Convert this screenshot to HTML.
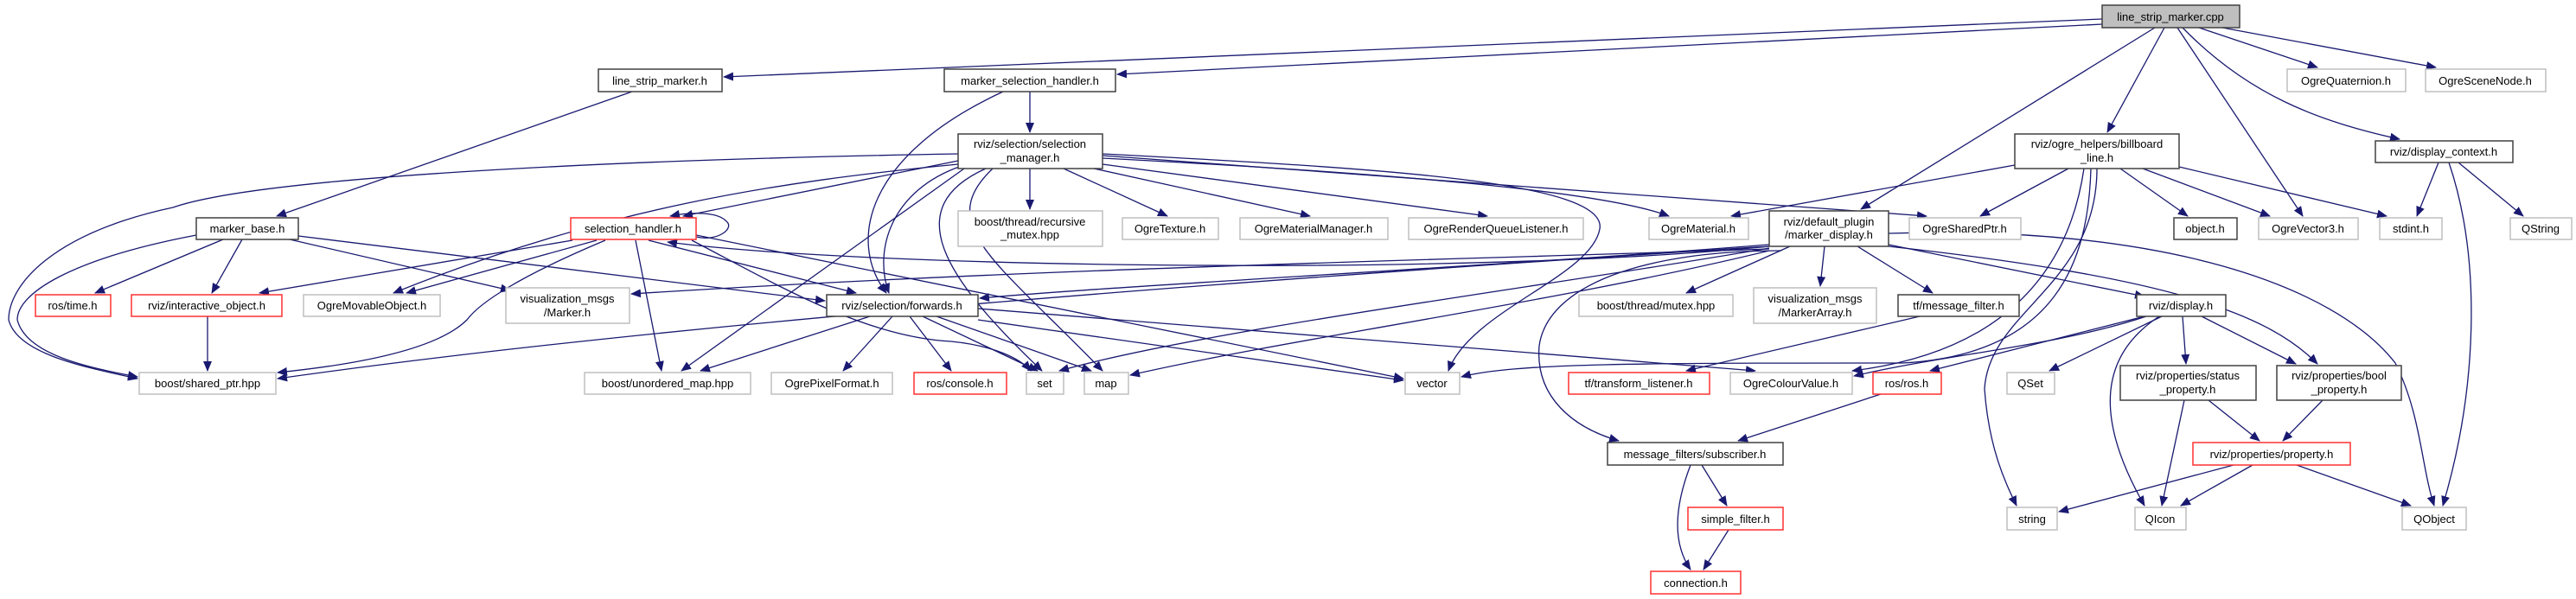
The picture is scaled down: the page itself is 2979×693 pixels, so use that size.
<!DOCTYPE html>
<html><head><meta charset="utf-8"><style>
html,body{margin:0;padding:0;background:#fff;}
svg{display:block;}
text{font-family:"Liberation Sans",sans-serif;font-size:13px;fill:#000;text-anchor:middle;}
.e{fill:none;stroke:#191970;stroke-width:1.3;marker-end:url(#a);}
.k{fill:#fff;stroke:#404040;stroke-width:1.5;}
.g{fill:#fff;stroke:#bfbfbf;stroke-width:1.5;}
.r{fill:#fff;stroke:#ff3030;stroke-width:1.5;}
</style></head><body>
<svg width="2979" height="693" viewBox="0 0 2979 693" xmlns="http://www.w3.org/2000/svg">
<defs><marker id="a" markerWidth="12" markerHeight="10" refX="11" refY="5" orient="auto" markerUnits="userSpaceOnUse"><path d="M0,0 L12,5 L0,10 z" fill="#191970"/></marker></defs>
<g>
<path class="e" d="M2431,22 L837,89"/>
<path class="e" d="M2431,28 L1292,86"/>
<path class="e" d="M2492,32 L2152,242"/>
<path class="e" d="M2503,32 L2437,153"/>
<path class="e" d="M2518,32 L2663,250"/>
<path class="e" d="M2524,32 C2600,110 2680,140 2775,161"/>
<path class="e" d="M2543,32 L2680,78"/>
<path class="e" d="M2570,32 L2817,78"/>
<path class="e" d="M731,106 L320,250"/>
<path class="e" d="M1191,106 L1191,153"/>
<path class="e" d="M1160,106 C1000,180 980,280 1025,339"/>
<path class="e" d="M1108,186 L790,250"/>
<path class="e" d="M1108,178 C700,185 300,205 200,240 C60,270 10,330 10,370 C20,410 100,425 159,438"/>
<path class="e" d="M227,272 C80,300 20,340 20,370 C30,410 100,425 159,436"/>
<path class="e" d="M1108,190 C900,210 700,240 455,339"/>
<path class="e" d="M1112,192 C1030,220 1010,290 1028,339"/>
<path class="e" d="M1115,195 L788,429"/>
<path class="e" d="M1140,195 C1040,240 1090,320 1205,429"/>
<path class="e" d="M1148,195 C1080,260 1150,300 1275,429"/>
<path class="e" d="M1275,178 C1600,195 1860,210 1850,265 C1840,320 1700,360 1675,429"/>
<path class="e" d="M1191,195 L1191,242"/>
<path class="e" d="M1230,195 L1350,250"/>
<path class="e" d="M1265,195 L1515,250"/>
<path class="e" d="M1275,190 L1720,250"/>
<path class="e" d="M1275,183 C1600,200 1850,220 1930,250"/>
<path class="e" d="M1275,180 L2228,250"/>
<path class="e" d="M258,277 L110,339"/>
<path class="e" d="M280,277 L245,339"/>
<path class="e" d="M335,277 L590,336"/>
<path class="e" d="M345,273 L954,348"/>
<path class="e" d="M805,274 C830,280 850,264 840,256 C830,245 800,245 775,250"/>
<path class="e" d="M662,278 L300,339"/>
<path class="e" d="M690,278 L470,339"/>
<path class="e" d="M700,278 C600,320 555,350 540,370 C500,410 380,425 321,431"/>
<path class="e" d="M750,278 L990,339"/>
<path class="e" d="M735,278 L765,429"/>
<path class="e" d="M800,278 C900,330 1000,390 1100,395 C1150,400 1180,415 1192,429"/>
<path class="e" d="M805,272 L1623,438"/>
<path class="e" d="M2046,285 C1700,320 1000,310 772,280"/>
<path class="e" d="M2046,283 C1700,310 1300,330 1133,345"/>
<path class="e" d="M2046,285 C1500,320 800,370 321,438"/>
<path class="e" d="M2046,287 C1800,330 1400,380 1225,429"/>
<path class="e" d="M2046,290 C1800,350 1500,390 1307,434"/>
<path class="e" d="M2046,288 C1700,300 1200,310 730,340"/>
<path class="e" d="M2070,285 L1950,339"/>
<path class="e" d="M2110,285 L2105,331"/>
<path class="e" d="M2148,285 L2235,339"/>
<path class="e" d="M2184,283 L2480,343"/>
<path class="e" d="M2060,290 C1900,290 1790,330 1780,400 C1775,460 1820,495 1872,510"/>
<path class="e" d="M2184,285 C2500,320 2620,360 2680,421"/>
<path class="e" d="M2184,270 C2500,260 2700,330 2770,420 C2800,480 2800,540 2815,585"/>
<path class="e" d="M2330,191 L2002,250"/>
<path class="e" d="M2392,195 L2290,250"/>
<path class="e" d="M2452,195 L2530,250"/>
<path class="e" d="M2478,195 L2625,250"/>
<path class="e" d="M2520,193 L2760,250"/>
<path class="e" d="M2418,195 C2415,300 2380,410 2200,420 C1900,420 1750,420 1690,436"/>
<path class="e" d="M2425,195 C2425,330 2300,360 2295,450 C2300,520 2320,560 2332,585"/>
<path class="e" d="M2410,195 C2390,330 2300,410 2142,429"/>
<path class="e" d="M2832,188 C2870,300 2865,450 2825,585"/>
<path class="e" d="M2820,188 L2795,250"/>
<path class="e" d="M2843,188 L2918,250"/>
<path class="e" d="M2480,366 L2232,429"/>
<path class="e" d="M2482,366 C2380,400 2250,410 2144,435"/>
<path class="e" d="M2500,366 L2370,429"/>
<path class="e" d="M2497,366 C2430,410 2420,480 2480,585"/>
<path class="e" d="M2524,366 L2528,421"/>
<path class="e" d="M2546,366 L2655,421"/>
<path class="e" d="M2220,366 L1950,429"/>
<path class="e" d="M2175,456 L2010,510"/>
<path class="e" d="M1968,538 L1997,585"/>
<path class="e" d="M1955,538 C1935,590 1935,630 1955,659"/>
<path class="e" d="M1999,613 L1970,659"/>
<path class="e" d="M2554,463 L2613,510"/>
<path class="e" d="M2526,463 L2500,585"/>
<path class="e" d="M2686,463 L2640,510"/>
<path class="e" d="M2583,538 L2381,592"/>
<path class="e" d="M2605,538 L2522,585"/>
<path class="e" d="M2656,538 L2788,585"/>
<path class="e" d="M240,366 L240,429"/>
<path class="e" d="M1006,366 L810,429"/>
<path class="e" d="M1032,366 L975,429"/>
<path class="e" d="M1052,366 L1100,429"/>
<path class="e" d="M1067,366 L1200,429"/>
<path class="e" d="M1083,366 L1262,429"/>
<path class="e" d="M1131,370 L1623,440"/>
<path class="e" d="M1131,357 L2030,429"/>
</g>
<g>
<rect x="2431" y="6" width="159" height="26" fill="#bfbfbf" stroke="#404040" stroke-width="1.5"/><text x="2510" y="24">line_strip_marker.cpp</text>
<rect class="k" x="692" y="80" width="143" height="26"/><text x="763" y="98">line_strip_marker.h</text>
<rect class="k" x="1092" y="80" width="198" height="26"/><text x="1191" y="98">marker_selection_handler.h</text>
<rect class="g" x="2645" y="80" width="137" height="26"/><text x="2713" y="98">OgreQuaternion.h</text>
<rect class="g" x="2805" y="80" width="139" height="26"/><text x="2874" y="98">OgreSceneNode.h</text>
<rect class="k" x="1108" y="155" width="167" height="40"/><text x="1191" y="171">rviz/selection/selection</text><text x="1191" y="187">_manager.h</text>
<rect class="k" x="2330" y="155" width="190" height="40"/><text x="2425" y="171">rviz/ogre_helpers/billboard</text><text x="2425" y="187">_line.h</text>
<rect class="k" x="2747" y="163" width="159" height="25"/><text x="2826" y="180">rviz/display_context.h</text>
<rect class="k" x="227" y="252" width="118" height="25"/><text x="286" y="269">marker_base.h</text>
<rect class="r" x="660" y="252" width="145" height="25"/><text x="732" y="269">selection_handler.h</text>
<rect class="g" x="1108" y="244" width="167" height="41"/><text x="1191" y="261">boost/thread/recursive</text><text x="1191" y="276">_mutex.hpp</text>
<rect class="g" x="1298" y="252" width="111" height="25"/><text x="1353" y="269">OgreTexture.h</text>
<rect class="g" x="1434" y="252" width="171" height="25"/><text x="1519" y="269">OgreMaterialManager.h</text>
<rect class="g" x="1629" y="252" width="202" height="25"/><text x="1730" y="269">OgreRenderQueueListener.h</text>
<rect class="g" x="1907" y="252" width="115" height="25"/><text x="1964" y="269">OgreMaterial.h</text>
<rect class="k" x="2046" y="244" width="138" height="41"/><text x="2115" y="261">rviz/default_plugin</text><text x="2115" y="276">/marker_display.h</text>
<rect class="g" x="2208" y="252" width="129" height="25"/><text x="2272" y="269">OgreSharedPtr.h</text>
<rect class="k" x="2514" y="252" width="73" height="25"/><text x="2550" y="269">object.h</text>
<rect class="g" x="2612" y="252" width="115" height="25"/><text x="2669" y="269">OgreVector3.h</text>
<rect class="g" x="2752" y="252" width="72" height="25"/><text x="2788" y="269">stdint.h</text>
<rect class="g" x="2903" y="252" width="71" height="25"/><text x="2938" y="269">QString</text>
<rect class="r" x="41" y="341" width="87" height="25"/><text x="84" y="358">ros/time.h</text>
<rect class="r" x="152" y="341" width="174" height="25"/><text x="239" y="358">rviz/interactive_object.h</text>
<rect class="g" x="351" y="341" width="158" height="25"/><text x="430" y="358">OgreMovableObject.h</text>
<rect class="g" x="585" y="333" width="143" height="41"/><text x="656" y="350">visualization_msgs</text><text x="656" y="366">/Marker.h</text>
<rect class="k" x="956" y="341" width="175" height="25"/><text x="1043" y="358">rviz/selection/forwards.h</text>
<rect class="g" x="1826" y="341" width="178" height="25"/><text x="1915" y="358">boost/thread/mutex.hpp</text>
<rect class="g" x="2028" y="333" width="142" height="41"/><text x="2099" y="350">visualization_msgs</text><text x="2099" y="366">/MarkerArray.h</text>
<rect class="k" x="2195" y="341" width="140" height="25"/><text x="2265" y="358">tf/message_filter.h</text>
<rect class="k" x="2471" y="341" width="103" height="25"/><text x="2522" y="358">rviz/display.h</text>
<rect class="g" x="161" y="431" width="158" height="25"/><text x="240" y="448">boost/shared_ptr.hpp</text>
<rect class="g" x="676" y="431" width="192" height="25"/><text x="772" y="448">boost/unordered_map.hpp</text>
<rect class="g" x="892" y="431" width="140" height="25"/><text x="962" y="448">OgrePixelFormat.h</text>
<rect class="r" x="1057" y="431" width="107" height="25"/><text x="1110" y="448">ros/console.h</text>
<rect class="g" x="1187" y="431" width="43" height="25"/><text x="1208" y="448">set</text>
<rect class="g" x="1254" y="431" width="51" height="25"/><text x="1279" y="448">map</text>
<rect class="g" x="1625" y="431" width="63" height="25"/><text x="1656" y="448">vector</text>
<rect class="r" x="1814" y="431" width="163" height="25"/><text x="1895" y="448">tf/transform_listener.h</text>
<rect class="g" x="2001" y="431" width="141" height="25"/><text x="2071" y="448">OgreColourValue.h</text>
<rect class="r" x="2166" y="431" width="79" height="25"/><text x="2205" y="448">ros/ros.h</text>
<rect class="g" x="2321" y="431" width="55" height="25"/><text x="2348" y="448">QSet</text>
<rect class="k" x="2452" y="423" width="157" height="40"/><text x="2530" y="439">rviz/properties/status</text><text x="2530" y="455">_property.h</text>
<rect class="k" x="2633" y="423" width="144" height="40"/><text x="2705" y="439">rviz/properties/bool</text><text x="2705" y="455">_property.h</text>
<rect class="k" x="1859" y="512" width="203" height="26"/><text x="1960" y="530">message_filters/subscriber.h</text>
<rect class="r" x="2536" y="512" width="182" height="26"/><text x="2627" y="530">rviz/properties/property.h</text>
<rect class="r" x="1952" y="587" width="110" height="26"/><text x="2007" y="605">simple_filter.h</text>
<rect class="g" x="2321" y="587" width="58" height="26"/><text x="2350" y="605">string</text>
<rect class="g" x="2469" y="587" width="59" height="26"/><text x="2498" y="605">QIcon</text>
<rect class="g" x="2778" y="587" width="74" height="26"/><text x="2815" y="605">QObject</text>
<rect class="r" x="1909" y="661" width="104" height="26"/><text x="1961" y="679">connection.h</text>
</g>
</svg>
</body></html>
